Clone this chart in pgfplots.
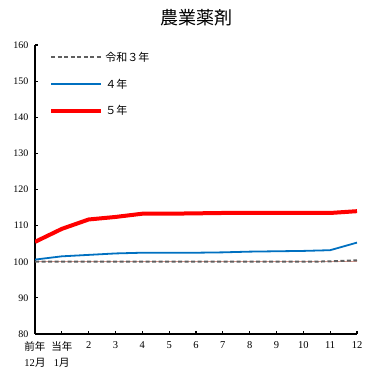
\documentclass[border=0pt]{standalone}
\usepackage{pgfplots}
\pgfplotsset{compat=1.18}
\usepackage{fontspec}
\setmainfont{Liberation Serif}
\newfontfamily\jp{Noto Sans CJK JP}
\definecolor{myblue}{RGB}{0,112,192}
\definecolor{mygray}{RGB}{95,95,95}
\definecolor{mypink}{RGB}{215,150,140}
\begin{document}
\begin{tikzpicture}
\begin{axis}[
  scale only axis, width=322pt, height=289pt,
  xmin=0, xmax=12, ymin=80, ymax=160,
  axis x line*=bottom, axis y line*=left,
  axis line style={line width=2pt},
  x axis line style={-}, y axis line style={-},
  xtick={0,...,12},
  xticklabels={{\jp 前年}\\12{\jp 月}, {\jp 当年}\\ 1{\jp 月},2,3,4,5,6,7,8,9,10,11,12},
  xticklabel style={align=center, font=\fontsize{10.5}{16}\selectfont, yshift=-4pt},
  ytick={80,90,...,160},
  yticklabel style={font=\fontsize{10}{12}\selectfont, xshift=-3pt},
  /pgf/number format/assume math mode=true,
  tick style={black, line width=1.2pt},
  major tick length=3pt,
  tick align=inside,
  title={\jp 農業薬剤}, title style={font=\fontsize{18}{21}\selectfont, yshift=9pt},
  legend style={draw=none, fill=none, at={(0.035,0.99)}, anchor=north west, font=\fontsize{11}{13}\selectfont, row sep=12pt},
  legend cell align=left,
  legend image code/.code={\draw[#1] (0pt,0pt) -- (50pt,0pt);},
]
\addplot[mypink, line width=0.6pt, forget plot] coordinates {(0,100)(12,100)};
\addplot[mygray, dash pattern=on 4pt off 2.5pt, line width=2pt] coordinates {(0,100)(1,100)(2,100)(3,100)(4,100)(5,100)(6,100)(7,100)(8,100)(9,100)(10,100)(11,100.1)(12,100.4)};
\addlegendentry{\jp 令和３年}
\addplot[myblue, line width=1.8pt] coordinates {(0,100.6)(1,101.5)(2,101.9)(3,102.3)(4,102.5)(5,102.5)(6,102.5)(7,102.6)(8,102.8)(9,102.9)(10,103.0)(11,103.2)(12,105.3)};
\addlegendentry{\jp ４年}
\addplot[red, line width=4pt] coordinates {(0,105.5)(1,109.1)(2,111.7)(3,112.4)(4,113.3)(5,113.3)(6,113.4)(7,113.5)(8,113.5)(9,113.5)(10,113.5)(11,113.5)(12,114.0)};
\addlegendentry{\jp ５年}
\end{axis}
\pgfresetboundingbox
\path[use as bounding box] ([xshift=-35pt,yshift=-39pt]current axis.south west) rectangle ([xshift=22pt,yshift=45pt]current axis.north east);
\end{tikzpicture}
\end{document}
